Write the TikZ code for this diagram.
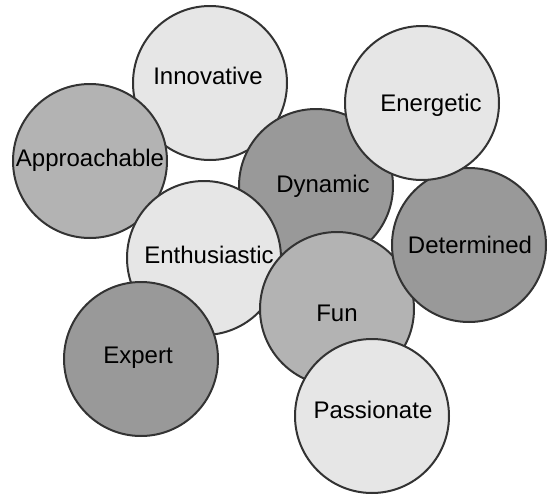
\documentclass[tikz,border=0pt]{standalone}
\usepackage{fontspec}
\setmainfont{Liberation Sans}
\definecolor{lightg}{HTML}{E6E6E6}
\definecolor{midg}{HTML}{B3B3B3}
\definecolor{darkg}{HTML}{999999}
\definecolor{edge}{HTML}{333333}
\begin{document}
\begin{tikzpicture}[x=1pt,y=-1pt,
  bubble/.style={circle,draw=edge,line width=2pt,minimum size=154pt,inner sep=0pt},
  lbl/.style={font=\fontsize{24}{26}\selectfont,text height=0.72em,text depth=0pt,inner sep=0pt,anchor=center,yshift=-3pt}]
\useasboundingbox (0,0) rectangle (550,496);
\node[bubble,fill=lightg] (inn) at (210,83) {};
\node[lbl] (innt) at (208,78) {Innovative};
\node[bubble,fill=midg] (app) at (90,161) {};
\node[lbl] (appt) at (90,160) {Approachable};
\node[bubble,fill=darkg] (dyn) at (316,186) {};
\node[lbl] (dynt) at (323,186) {Dynamic};
\node[bubble,fill=lightg] (ent) at (204,258) {};
\node[lbl] (entt) at (209,257) {Enthusiastic};
\node[bubble,fill=midg] (fun) at (337,309) {};
\node[lbl] (funt) at (337,315) {Fun};
\node[bubble,fill=darkg] (det) at (469,245) {};
\node[lbl] (dett) at (470,247) {Determined};
\node[bubble,fill=lightg] (ene) at (422,103) {};
\node[lbl] (enet) at (431,105) {Energetic};
\node[bubble,fill=darkg] (exp) at (141,359) {};
\node[lbl] (expt) at (138,357) {Expert};
\node[bubble,fill=lightg] (pas) at (372,416) {};
\node[lbl] (past) at (373,412) {Passionate};
\end{tikzpicture}
\end{document}
